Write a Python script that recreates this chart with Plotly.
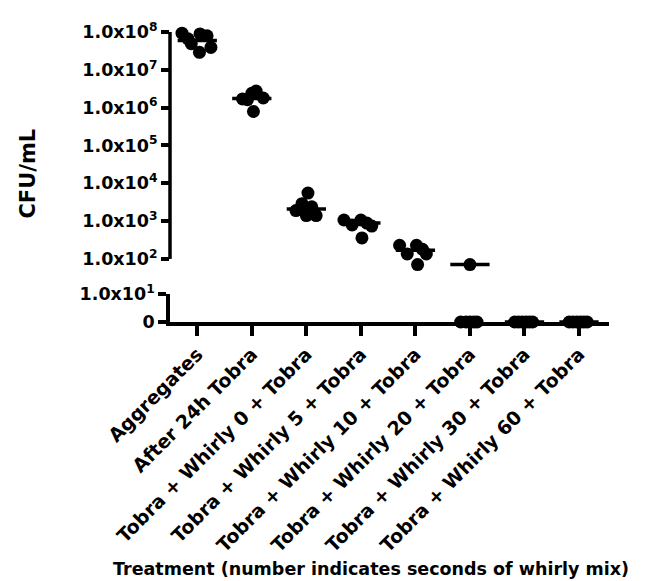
import plotly.graph_objects as go

categories = ["Aggregates", "After 24h Tobra", "Tobra + Whirly 0 + Tobra",
              "Tobra + Whirly 5 + Tobra", "Tobra + Whirly 10 + Tobra",
              "Tobra + Whirly 20 + Tobra", "Tobra + Whirly 30 + Tobra",
              "Tobra + Whirly 60 + Tobra"]

# CFU/mL values per treatment (0 = below detection, drawn on the lower segment)
aggregates = [9.3e7, 4.9e7, 8.9e7, 7.9e7, 3.9e7, 2.9e7, 6.6e7]
after_24h = [1.7e6, 2.4e6, 2.75e6, 1.8e6, 1.62e6, 7.9e5]
whirly_0 = [5.5e3, 2.9e3, 2.4e3, 1.9e3, 1.4e3, 1.4e3]
whirly_5 = [1.07e3, 7.9e2, 1.07e3, 8.9e2, 7.4e2, 3.6e2]
whirly_10 = [2.3e2, 1.35e2, 2.3e2, 1.8e2, 1.35e2, 7.1e1]
whirly_20 = [7.1e1, 0, 0, 0, 0, 0]
whirly_30 = [0, 0, 0, 0, 0, 0]
whirly_60 = [0, 0, 0, 0, 0, 0]
groups = [aggregates, after_24h, whirly_0, whirly_5, whirly_10,
          whirly_20, whirly_30, whirly_60]

# horizontal spread of dots inside each column (category units)
jitter = [
    [-0.28, -0.11, 0.05, 0.18, 0.25, 0.04, -0.17],
    [-0.17, 0.0, 0.08, 0.21, -0.08, 0.03],
    [0.03, -0.08, 0.10, -0.19, 0.0, 0.18],
    [-0.31, -0.16, 0.0, 0.11, 0.20, 0.02],
    [-0.29, -0.15, 0.02, 0.13, 0.20, 0.04],
    [0.0, -0.17, -0.07, 0.0, 0.07, 0.13],
    [-0.18, -0.11, -0.04, 0.03, 0.09, 0.15],
    [-0.18, -0.11, -0.04, 0.03, 0.09, 0.15],
]

# centre line (median) per treatment, CFU/mL
centre = [6.0e7, 1.75e6, 2.1e3, 8.9e2, 1.7e2, 7.1e1, 0, 0]

upper_ticks = [1e2, 1e3, 1e4, 1e5, 1e6, 1e7, 1e8]
upper_ticktext = ["1.0x10<sup>%d</sup>" % e for e in range(2, 9)]
lower_ticks = [0, 10]
lower_ticktext = ["0", "1.0x10<sup>1</sup>"]

FONT = "DejaVu Sans"
LOG_LO, LOG_AX, LOG_HI = 1.6, 2.0, 8.0      # range bottom, axis-line bottom, top
AX_BOTTOM, AX_TOP = 0.2174, 1.0              # domain span of the 1e2..1e8 segment
per_dec = (AX_TOP - AX_BOTTOM) / (LOG_HI - LOG_AX)
dom_lo = AX_BOTTOM - (LOG_AX - LOG_LO) * per_dec
line_frac = (LOG_AX - LOG_LO) / (LOG_HI - LOG_LO)

fig = go.Figure()

for i, (vals, jit) in enumerate(zip(groups, jitter)):
    xs_up = [i + j for v, j in zip(vals, jit) if v > 0]
    ys_up = [v for v in vals if v > 0]
    xs_lo = [i + j for v, j in zip(vals, jit) if v <= 0]
    ys_lo = [v for v in vals if v <= 0]
    if ys_up:
        fig.add_trace(go.Scatter(x=xs_up, y=ys_up, mode="markers", xaxis="x", yaxis="y",
                                 marker=dict(size=13, color="black"), cliponaxis=False,
                                 showlegend=False))
    if ys_lo:
        fig.add_trace(go.Scatter(x=xs_lo, y=ys_lo, mode="markers", xaxis="x", yaxis="y2",
                                 marker=dict(size=13, color="black"), cliponaxis=False,
                                 showlegend=False))
    c = centre[i]
    fig.add_trace(go.Scatter(x=[i - 0.36, i + 0.36], y=[c, c], mode="lines",
                             xaxis="x", yaxis="y" if c > 0 else "y2",
                             line=dict(color="black", width=3.5), cliponaxis=False,
                             showlegend=False))

tickfont = dict(family=FONT, size=17.5, color="black", weight="bold")

# the upper axis line stops at 1e2 (axis break below it)
fig.add_shape(type="line", xref="x domain", yref="y domain", x0=0, x1=0,
              y0=line_frac, y1=1, line=dict(color="black", width=3.5), layer="above")

fig.update_layout(
    width=653, height=581,
    margin=dict(l=162, r=52, t=15, b=267),
    paper_bgcolor="white", plot_bgcolor="white",
    xaxis=dict(range=[-0.5, 7.55], tickvals=list(range(len(categories))),
               ticktext=categories, tickangle=-45, anchor="y2",
               showline=True, linecolor="black", linewidth=3.5,
               ticks="outside", ticklen=10, tickwidth=3.5, tickcolor="black",
               showgrid=False, zeroline=False,
               tickfont=dict(family=FONT, size=19, color="black", weight="bold")),
    yaxis=dict(type="log", range=[LOG_LO, LOG_HI], domain=[dom_lo, 1.0], anchor="x",
               tickvals=upper_ticks, ticktext=upper_ticktext,
               showline=False,
               ticks="outside", ticklen=8, tickwidth=3.5, tickcolor="black",
               showgrid=False, zeroline=False, tickfont=tickfont),
    yaxis2=dict(range=[0, 10], domain=[0, 0.097], anchor="x",
                tickvals=lower_ticks, ticktext=lower_ticktext,
                showline=True, linecolor="black", linewidth=3.5,
                ticks="outside", ticklen=8, tickwidth=3.5, tickcolor="black",
                showgrid=False, zeroline=False, tickfont=tickfont),
    annotations=[
        dict(text="CFU/mL", xref="paper", yref="paper", x=-0.3235, y=0.5117,
             textangle=-90, showarrow=False, xanchor="center", yanchor="middle",
             font=dict(family=FONT, size=21, color="black", weight="bold")),
        dict(text="Treatment (number indicates seconds of whirly mix)", xref="paper",
             yref="paper", x=0.458, y=-0.85, showarrow=False,
             xanchor="center", yanchor="middle",
             font=dict(family=FONT, size=17.5, color="black", weight="bold")),
    ],
)

fig.write_html("out.html")
